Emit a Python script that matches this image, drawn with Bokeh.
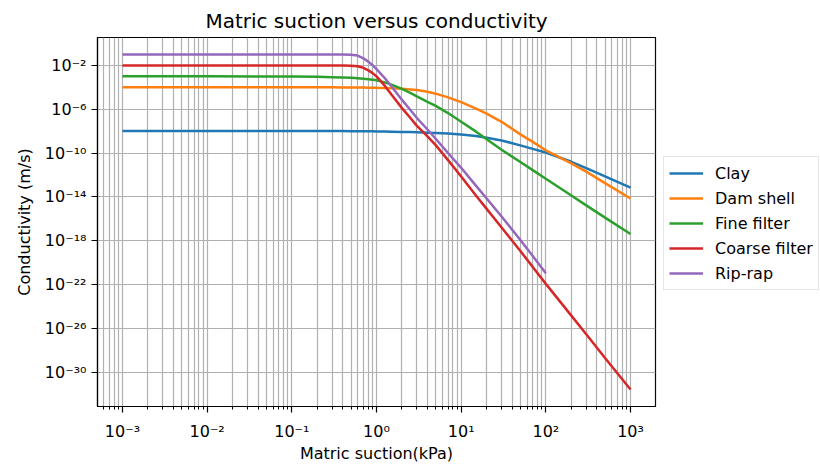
from bokeh.plotting import figure
from bokeh.layouts import row
from bokeh.models import Range1d, FixedTicker, CustomJSTickFormatter, Legend, LegendItem
from bokeh.embed import file_html
from bokeh.resources import INLINE

# ---------------- data ----------------
suction = [1e-3, 1e-2, 1e-1, 0.2, 0.3, 0.4, 0.5, 0.6, 0.7, 0.8, 0.9, 1.0,
           1.25, 1.5, 2, 2.5, 3, 4, 5, 7, 10, 15, 20, 30, 50, 70, 100,
           200, 300, 500, 1000]

# log10 of conductivity (m/s)
clay_log = [-8.0, -8.0, -8.0, -8.0, -8.0, -8.0, -8.01, -8.01, -8.01, -8.02, -8.02, -8.03,
            -8.04, -8.05, -8.07, -8.09, -8.11, -8.14, -8.17, -8.22, -8.3, -8.45, -8.6,
            -8.85, -9.3, -9.62, -9.95, -10.8, -11.38, -12.14, -13.16]
dam_shell_log = [-4.0, -4.0, -4.0, -4.0, -4.0, -4.01, -4.01, -4.02, -4.02, -4.03, -4.03, -4.04,
                 -4.06, -4.08, -4.13, -4.19, -4.25, -4.4, -4.58, -4.92, -5.35, -5.95, -6.4,
                 -7.15, -8.3, -8.98, -9.75, -10.95, -11.7, -12.75, -14.15]
fine_filter_log = [-3.0, -3.0, -3.02, -3.04, -3.07, -3.1, -3.13, -3.17, -3.21, -3.26, -3.31, -3.36,
                   -3.55, -3.75, -4.15, -4.5, -4.82, -5.32, -5.7, -6.35, -7.15, -8.05, -8.75,
                   -9.7, -10.82, -11.56, -12.35, -13.88, -14.78, -15.9, -17.4]
coarse_filter_log = [-2.0, -2.0, -2.0, -2.0, -2.0, -2.01, -2.03, -2.08, -2.22, -2.45, -2.7, -3.0,
                     -3.85, -4.65, -5.9, -6.78, -7.52, -8.48, -9.28, -10.65, -12.15, -13.9, -15.1,
                     -16.8, -18.95, -20.4, -21.95, -24.85, -26.55, -28.72, -31.6]
rip_rap_log = [-1.0, -1.0, -1.0, -1.0, -1.0, -1.01, -1.03, -1.1, -1.35, -1.65, -1.98, -2.33,
               -3.15, -3.9, -5.15, -6.05, -6.8, -7.85, -8.7, -10.0, -11.35, -13.0, -14.15,
               -15.8, -17.95, -19.4, -20.97]

series_names = ["Clay", "Dam shell", "Fine filter", "Coarse filter", "Rip-rap"]
series_logs = [clay_log, dam_shell_log, fine_filter_log, coarse_filter_log, rip_rap_log]
series_colors = ["#1f77b4", "#ff7f0e", "#2ca02c", "#d62728", "#9467bd"]

x_major_ticks = [1e-3, 1e-2, 1e-1, 1e0, 1e1, 1e2, 1e3]
x_minor_ticks = [m * 10.0 ** e for e in range(-4, 4) for m in range(2, 10)]
y_major_ticks = [1e-2, 1e-6, 1e-10, 1e-14, 1e-18, 1e-22, 1e-26, 1e-30]

# ---------------- main figure ----------------
p = figure(width=663, height=465, x_axis_type="log", y_axis_type="log",
           x_range=Range1d(10 ** -3.295, 10 ** 3.295),
           y_range=Range1d(10 ** -33.15, 10 ** 0.55),
           output_backend="svg", toolbar_location=None,
           min_border_left=97, min_border_right=8, min_border_top=37, min_border_bottom=53,
           title="Matric suction versus conductivity")
p.background_fill_color = "white"
p.border_fill_color = "white"
p.outline_line_color = "black"
p.outline_line_width = 1.2

p.title.text_font = "DejaVu Sans"
p.title.text_font_size = "20px"
p.title.text_font_style = "normal"
p.title.text_color = "black"
p.title.align = "center"
p.title.standoff = 9

fmt = CustomJSTickFormatter(code="""
const e = Math.round(Math.log10(tick));
const sup = {'-':'\u207b','0':'\u2070','1':'\u00b9','2':'\u00b2','3':'\u00b3','4':'\u2074','5':'\u2075','6':'\u2076','7':'\u2077','8':'\u2078','9':'\u2079'};
return '10' + String(e).split('').map(c => sup[c]).join('');
""")

xa = p.xaxis[0]
ya = p.yaxis[0]
xa.ticker = FixedTicker(ticks=x_major_ticks, minor_ticks=x_minor_ticks)
ya.ticker = FixedTicker(ticks=y_major_ticks, minor_ticks=[])
for ax in (xa, ya):
    ax.formatter = fmt
    ax.major_label_text_font = "DejaVu Sans"
    ax.major_label_text_font_size = "16px"
    ax.major_label_text_color = "black"
    ax.axis_label_text_font = "DejaVu Sans"
    ax.axis_label_text_font_size = "16px"
    ax.axis_label_text_font_style = "normal"
    ax.axis_label_text_color = "black"
    ax.axis_line_color = "black"
    ax.axis_line_width = 1.2
    ax.major_tick_line_color = "black"
    ax.major_tick_line_width = 1.2
    ax.major_tick_out = 6
    ax.major_tick_in = 0
    ax.minor_tick_line_color = "black"
    ax.minor_tick_line_width = 1.0
    ax.minor_tick_out = 3
    ax.minor_tick_in = 0
xa.axis_label = "Matric suction(kPa)"
ya.axis_label = "Conductivity (m/s)"
ya.minor_tick_line_color = None
xa.major_label_standoff = 9
xa.axis_label_standoff = 0
ya.major_label_standoff = 5
ya.axis_label_standoff = 8

p.xgrid.grid_line_color = "#b0b0b0"
p.xgrid.grid_line_width = 1.2
p.xgrid.minor_grid_line_color = "#b0b0b0"
p.xgrid.minor_grid_line_width = 1.2
p.ygrid.grid_line_color = "#b0b0b0"
p.ygrid.grid_line_width = 1.2

series_x = []
series_y = []
for name, logs, color in zip(series_names, series_logs, series_colors):
    xs = suction[:len(logs)]
    ys = [10.0 ** v for v in logs]
    series_x.append(xs)
    series_y.append(ys)
    p.line(xs, ys, line_color=color, line_width=2.5)

# ---------------- legend panel (outside the axes, right) ----------------
# its view window lies where no data is, so only the legend shows
lp = figure(width=157, height=465, x_range=Range1d(-2, -1), y_range=Range1d(-2, -1),
            x_axis_location=None, y_axis_location=None,
            output_backend="svg", toolbar_location=None, min_border=0)
lp.outline_line_color = None
lp.xgrid.visible = False
lp.ygrid.visible = False
lp.background_fill_color = "white"
lp.border_fill_color = "white"

items = []
for name, color, xs, ys in zip(series_names, series_colors, series_x, series_y):
    r = lp.line(xs, ys, line_color=color, line_width=2.5)
    items.append(LegendItem(label=name, renderers=[r]))

legend = Legend(items=items, location=(0, 116))
legend.label_text_font = "DejaVu Sans"
legend.label_text_font_size = "16px"
legend.label_text_color = "black"
legend.glyph_width = 34
legend.glyph_height = 22
legend.label_height = 22
legend.label_standoff = 12
legend.padding = 5
legend.spacing = 3
legend.margin = 0
legend.border_line_color = "#cccccc"
legend.border_line_width = 1.2
legend.background_fill_color = "white"
legend.background_fill_alpha = 1.0
lp.add_layout(legend, "center")

layout = row(p, lp)

with open("out.html", "w", encoding="utf-8") as f:
    f.write(file_html(layout, INLINE))
